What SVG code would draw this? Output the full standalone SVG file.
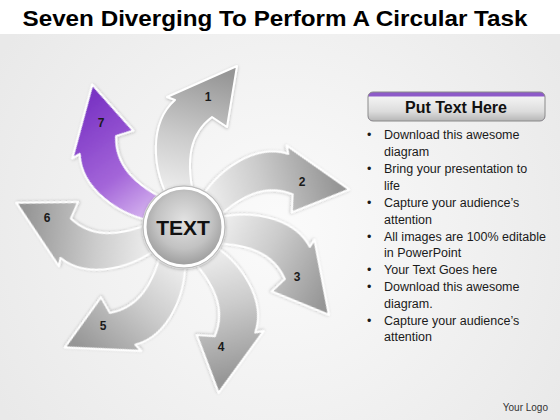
<svg xmlns="http://www.w3.org/2000/svg" width="560" height="420" viewBox="0 0 560 420">
<defs>
<radialGradient id="bg" cx="280" cy="230" r="330" gradientUnits="userSpaceOnUse">
<stop offset="0" stop-color="#fbfbfb"/><stop offset="1" stop-color="#e9e9e9"/>
</radialGradient>
<linearGradient id="gGray" x1="186" y1="200" x2="220" y2="72" gradientUnits="userSpaceOnUse">
<stop offset="0" stop-color="#f0f0f0"/><stop offset="0.45" stop-color="#cccccc"/><stop offset="1" stop-color="#969696"/>
</linearGradient>
<linearGradient id="gPurple" x1="186" y1="200" x2="220" y2="72" gradientUnits="userSpaceOnUse">
<stop offset="0" stop-color="#d8b8f0"/><stop offset="0.4" stop-color="#a466d9"/><stop offset="1" stop-color="#7a34c4"/>
</linearGradient>
<radialGradient id="gCircle" cx="0.5" cy="0.42" r="0.6">
<stop offset="0" stop-color="#e2e2e2"/><stop offset="0.6" stop-color="#c2c2c2"/><stop offset="1" stop-color="#989898"/>
</radialGradient>
<linearGradient id="gHead" x1="0" y1="0" x2="0" y2="1">
<stop offset="0" stop-color="#f4f4f4"/><stop offset="0.6" stop-color="#dcdcdc"/><stop offset="1" stop-color="#b4b4b4"/>
</linearGradient>
<clipPath id="headClip"><rect x="368" y="92" width="177" height="29" rx="5"/></clipPath>
<filter id="sh" x="-20%" y="-20%" width="140%" height="140%">
<feDropShadow dx="0" dy="1" stdDeviation="1.5" flood-color="#000" flood-opacity="0.25"/>
</filter>
<path id="arrow" d="M 172,205 C 150,168 150,122 175,100 L 167,97 L 237,66 L 227,127 L 212,117 C 192,132 183,157 196,205 Z"/>
</defs>
<style>
.title{font-family:"Liberation Sans",Arial,sans-serif;font-weight:bold;font-size:22px;fill:#000}
.num{font-family:"Liberation Sans",Arial,sans-serif;font-weight:bold;font-size:12px;fill:#1a1a1a;text-anchor:middle}
.arr{stroke:#ffffff;stroke-width:2;stroke-linejoin:round;filter:url(#sh)}
.gray{fill:url(#gGray)}
.purple{fill:url(#gPurple)}
.bul{font-family:"Liberation Sans",Arial,sans-serif;font-size:12.5px;fill:#1a1a1a}
</style>
<rect x="0" y="0" width="560" height="420" fill="url(#bg)"/>
<rect x="0" y="0" width="560" height="34" fill="#ffffff"/>
<text class="title" x="275" y="26" text-anchor="middle" textLength="505" lengthAdjust="spacingAndGlyphs">Seven Diverging To Perform A Circular Task</text>

<g id="connectors">
<g id="arrow1"><use href="#arrow" class="arr gray"/></g>
<g id="arrow2"><use href="#arrow" class="arr gray" transform="rotate(59 184 227)"/></g>
<g id="arrow3"><use href="#arrow" class="arr gray" transform="rotate(103 184 227)"/></g>
<g id="arrow4"><use href="#arrow" class="arr gray" transform="rotate(150 184 227)"/></g>
<g id="arrow5"><use href="#arrow" class="arr gray" transform="rotate(206.5 184 227)"/></g>
<g id="arrow6"><use href="#arrow" class="arr gray" transform="rotate(260 184 227)"/></g>
<g id="arrow7"><use href="#arrow" class="arr purple" transform="rotate(309 184 227)"/></g>
</g>

<g id="labels">
<text class="num" x="208" y="101">1</text>
<text class="num" x="302" y="186">2</text>
<text class="num" x="297" y="281">3</text>
<text class="num" x="221" y="351">4</text>
<text class="num" x="103" y="330">5</text>
<text class="num" x="47" y="222">6</text>
<text class="num" x="101" y="127">7</text>
</g>

<g id="center">
<circle cx="184" cy="227" r="42" fill="#d8d8d8" filter="url(#sh)"/>
<circle cx="184" cy="227" r="39" fill="url(#gCircle)" stroke="#ffffff" stroke-width="3"/>
<circle cx="184" cy="227" r="41" fill="none" stroke="#b0b0b0" stroke-width="0.8"/>
<text x="183" y="235" font-family="'Liberation Sans',Arial,sans-serif" font-weight="bold" font-size="21" text-anchor="middle" fill="#111">TEXT</text>
</g>

<g id="header">
<g clip-path="url(#headClip)">
<rect x="368" y="92" width="177" height="29" fill="#8d5ac8"/>
<rect x="368" y="96.5" width="177" height="25" fill="url(#gHead)"/>
</g>
<rect x="368" y="92" width="177" height="29" rx="5" fill="none" stroke="#8a8a8a" stroke-width="1"/>
<text x="456" y="113" font-family="'Liberation Sans',Arial,sans-serif" font-weight="bold" font-size="16" text-anchor="middle" fill="#111">Put Text Here</text>
</g>

<g id="bullets" class="bul">
<text x="367" y="139">•</text><text x="384" y="139">Download this awesome</text>
<text x="384" y="156">diagram</text>
<text x="367" y="173">•</text><text x="384" y="173">Bring your presentation to</text>
<text x="384" y="190">life</text>
<text x="367" y="207">•</text><text x="384" y="207">Capture your audience’s</text>
<text x="384" y="224">attention</text>
<text x="367" y="241">•</text><text x="384" y="241">All images are 100% editable</text>
<text x="384" y="257">in PowerPoint</text>
<text x="367" y="274">•</text><text x="384" y="274">Your Text Goes here</text>
<text x="367" y="291">•</text><text x="384" y="291">Download this awesome</text>
<text x="384" y="308">diagram.</text>
<text x="367" y="325">•</text><text x="384" y="325">Capture your audience’s</text>
<text x="384" y="341">attention</text>
</g>

<text x="548" y="411" font-family="'Liberation Sans',Arial,sans-serif" font-size="10" text-anchor="end" fill="#333">Your Logo</text>
</svg>
